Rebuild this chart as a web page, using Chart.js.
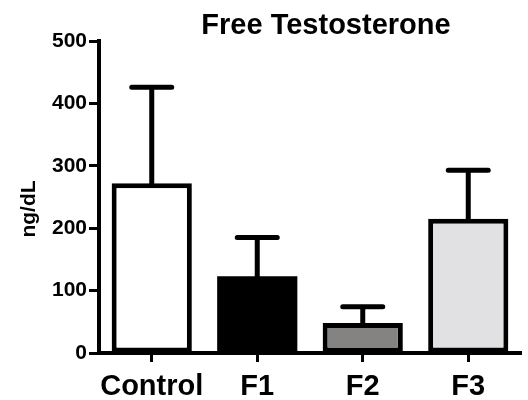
<!DOCTYPE html>
<html>
<head>
<meta charset="utf-8">
<script src="https://cdn.jsdelivr.net/npm/chart.js@4"></script>
<style>
  body { margin: 0; background: #fff; }
  #wrap { width: 528px; height: 400px; }
</style>
</head>
<body>
<div id="wrap"><canvas id="chart" width="528" height="400"></canvas></div>
<script>
// data
const groups = ['Control', 'F1', 'F2', 'F3']
const means = [272, 123, 48, 215]
const errTop = [426, 185, 74, 293]
const barColors = ['#ffffff', '#000000', '#858282', '#e1e1e3']
const yTicks = [0, 100, 200, 300, 400, 500]

const FONT = "'Liberation Sans', Arial, sans-serif"

// upper error bars, title and y label
const extras = {
    id: 'extras',
    afterDatasetsDraw(chart) {
        let ctx = chart.ctx
        let y = chart.scales.y
        let bars = chart.getDatasetMeta(0).data
        ctx.save()
        ctx.strokeStyle = '#000'
        ctx.lineWidth = 5
        ctx.lineCap = 'round'
        for (let i = 0; i < bars.length; i++) {
            let x = bars[i].x
            let top = y.getPixelForValue(errTop[i])
            ctx.beginPath()
            ctx.moveTo(x, bars[i].y)
            ctx.lineTo(x, top)
            ctx.moveTo(x - 20, top)
            ctx.lineTo(x + 20, top)
            ctx.stroke()
        }
        ctx.restore()
    },
    afterDraw(chart) {
        let ctx = chart.ctx
        ctx.save()
        ctx.fillStyle = '#000'
        ctx.font = 'bold 29px ' + FONT
        ctx.textAlign = 'center'
        ctx.textBaseline = 'middle'
        ctx.fillText('Free Testosterone', 326, 26)
        ctx.translate(29, 209)
        ctx.rotate(-Math.PI / 2)
        ctx.font = 'bold 21px ' + FONT
        ctx.fillText('ng/dL', 0, 0)
        ctx.restore()
    }
}

const data = {
    labels: groups,
    datasets: [{
        data: means,
        backgroundColor: barColors,
        borderColor: '#000',
        borderWidth: [5, 0, 5, 5],
        borderSkipped: false,
        inflateAmount: 0,
        categoryPercentage: 1,
        barPercentage: 0.76
    }]
}

const config = {
    type: 'bar',
    data: data,
    options: {
        responsive: false,
        animation: false,
        layout: { padding: { top: 41, right: 7, left: 0, bottom: 0 } },
        plugins: {
            legend: { display: false },
            tooltip: { enabled: false }
        },
        scales: {
            x: {
                afterFit(s) { s.height = 47 },
                grid: {
                    offset: false,
                    drawOnChartArea: false,
                    tickLength: 9,
                    tickWidth: 3,
                    tickColor: '#000'
                },
                border: { color: '#000', width: 4 },
                ticks: {
                    color: '#000',
                    padding: 8,
                    autoSkip: false,
                    maxRotation: 0,
                    minRotation: 0,
                    font: { family: FONT, size: 29, weight: 'bold' }
                }
            },
            y: {
                min: 0,
                max: 500,
                afterFit(s) { s.width = 99 },
                afterBuildTicks(s) { s.ticks = yTicks.map(v => ({ value: v })) },
                grid: {
                    drawOnChartArea: false,
                    tickLength: 10,
                    tickWidth: 3,
                    tickColor: '#000'
                },
                border: { color: '#000', width: 4 },
                ticks: {
                    color: '#000',
                    padding: 2,
                    font: { family: FONT, size: 21, weight: 'bold' }
                }
            }
        }
    },
    plugins: [extras]
}

new Chart(document.getElementById('chart').getContext('2d'), config)
</script>
</body>
</html>
